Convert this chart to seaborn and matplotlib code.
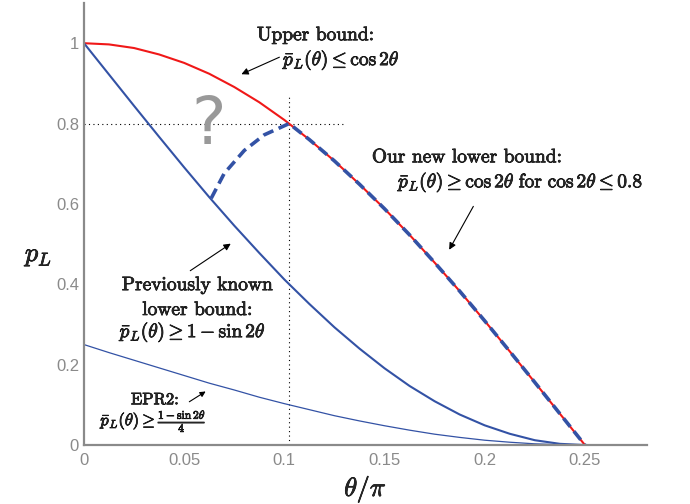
import matplotlib
matplotlib.use("Agg")
import matplotlib.pyplot as plt
import matplotlib.patheffects as pe
import seaborn as sns
import pandas as pd

# ---- data ----
x_vals = [0, 0.0125, 0.025, 0.0375, 0.05, 0.0625, 0.075, 0.0875, 0.1, 0.1125,
          0.125, 0.1375, 0.15, 0.1625, 0.175, 0.1875, 0.2, 0.2125, 0.225, 0.2375, 0.25]
upper_bound = [1.0, 0.997, 0.988, 0.972, 0.951, 0.924, 0.891, 0.853, 0.809, 0.760,
               0.707, 0.649, 0.588, 0.523, 0.454, 0.383, 0.309, 0.233, 0.156, 0.078, 0.0]
prev_lower = [1.0, 0.922, 0.844, 0.767, 0.691, 0.617, 0.546, 0.478, 0.412, 0.351,
              0.293, 0.240, 0.191, 0.147, 0.109, 0.076, 0.049, 0.028, 0.012, 0.003, 0.0]
epr2 = [0.25, 0.230, 0.211, 0.192, 0.173, 0.154, 0.137, 0.119, 0.103, 0.088,
        0.073, 0.060, 0.048, 0.037, 0.027, 0.019, 0.012, 0.007, 0.003, 0.001, 0.0]
new_x = [0.0635, 0.07, 0.08, 0.09, 0.1024, 0.1125, 0.125, 0.1375, 0.15, 0.1625,
         0.175, 0.1875, 0.2, 0.2125, 0.225, 0.2375, 0.25]
new_lower = [0.614, 0.676, 0.733, 0.772, 0.8, 0.760, 0.707, 0.649, 0.588, 0.523,
             0.454, 0.383, 0.309, 0.233, 0.156, 0.078, 0.0]
cross_x = 0.1024
cross_y = 0.8
x_ticks = [0, 0.05, 0.1, 0.15, 0.2, 0.25]
x_ticklabels = ["0", "0.05", "0.1", "0.15", "0.2", "0.25"]
y_ticks = [0, 0.2, 0.4, 0.6, 0.8, 1.0]
y_ticklabels = ["0", "0.2", "0.4", "0.6", "0.8", "1"]

sns.set_style("white")
plt.rcParams["mathtext.fontset"] = "cm"
plt.rcParams["axes.unicode_minus"] = False

fig = plt.figure(figsize=(6.9, 5.04), dpi=100)
ax = fig.add_axes([0.1217, 0.117, 0.816, 0.877])

BLUE = "#3352a5"
RED = "#f01818"

df = pd.DataFrame({"x": x_vals, "up": upper_bound, "prev": prev_lower, "epr": epr2})
dn = pd.DataFrame({"x": new_x, "y": new_lower})

# dotted guide lines
ax.plot([cross_x, cross_x], [0, 0.87], color="black", lw=0.8, linestyle=(0, (1, 3)))
ax.plot([0, 0.13], [cross_y, cross_y], color="black", lw=0.8, linestyle=(0, (1, 3)))

sns.lineplot(data=df, x="x", y="up", ax=ax, color=RED, lw=1.5, estimator=None)
sns.lineplot(data=df, x="x", y="prev", ax=ax, color=BLUE, lw=1.5, estimator=None)
sns.lineplot(data=df, x="x", y="epr", ax=ax, color=BLUE, lw=0.9, estimator=None)
sns.lineplot(data=dn, x="x", y="y", ax=ax, color=BLUE, lw=2.6, estimator=None)
ax.lines[-1].set_dashes((3, 1.6))

ax.set_xlim(0, 0.281)
ax.set_ylim(0, 1.1)
ax.set_xticks(x_ticks)
ax.set_xticklabels(x_ticklabels)
ax.set_yticks(y_ticks)
ax.set_yticklabels(y_ticklabels)
GRAY = "#8a8a8a"
ax.tick_params(direction="in", length=4, width=1.2, color=GRAY, labelcolor=GRAY,
               labelsize=12)
ax.tick_params(axis="x", pad=6)
for lab in ax.get_xticklabels() + ax.get_yticklabels():
    lab.set_fontfamily("Liberation Sans")
for s in ["top", "right"]:
    ax.spines[s].set_visible(False)
for s in ["left", "bottom"]:
    ax.spines[s].set_color(GRAY)
    ax.spines[s].set_linewidth(1.6)

STROKE = [pe.withStroke(linewidth=0.5, foreground="black")]
ax.set_xlabel(r"$\theta/\pi$", fontsize=19, labelpad=4)
ax.set_ylabel(r"$p_L$", fontsize=19, rotation=0)
ax.yaxis.set_label_coords(-0.08, 0.40)
ax.xaxis.label.set_path_effects(STROKE)
ax.yaxis.label.set_path_effects(STROKE)

# question mark
ax.text(0.062, 0.795, "?", fontsize=47, color="#999999", ha="center", va="center",
        fontfamily="DejaVu Sans")

fs = 14
TXT = dict(fontfamily="cmr10", fontsize=fs, va="center", path_effects=STROKE)
MTX = dict(fontsize=fs, va="center", path_effects=STROKE)
# upper bound annotation
ax.text(0.0863, 1.02, "Upper bound:", ha="left", **TXT)
ax.text(0.0993, 0.958, r"$\bar{p}_L(\theta) \leq \cos 2\theta$", ha="left", **MTX)
ax.annotate("", xy=(0.0773, 0.92), xytext=(0.0988, 0.968),
            arrowprops=dict(arrowstyle="-|>", color="black", lw=0.8, mutation_scale=10))

# new lower bound
ax.text(0.1437, 0.716, "Our new lower bound:", ha="left", **TXT)
ax.text(0.1567, 0.654,
        r"$\bar{p}_L(\theta) \geq \cos 2\theta\ \mathrm{for}\ \cos 2\theta \leq 0.8$",
        ha="left", **MTX)
ax.annotate("", xy=(0.1816, 0.48), xytext=(0.195, 0.6),
            arrowprops=dict(arrowstyle="-|>", color="black", lw=0.8, mutation_scale=10))

# previously known
ax.text(0.0564, 0.398, "Previously known", ha="center", **TXT)
ax.text(0.0564, 0.336, "lower bound:", ha="center", **TXT)
ax.text(0.0544, 0.281, r"$\bar{p}_L(\theta) \geq 1 - \sin 2\theta$", ha="center", **MTX)
ax.annotate("", xy=(0.0744, 0.505), xytext=(0.0519, 0.43),
            arrowprops=dict(arrowstyle="-|>", color="black", lw=0.8, mutation_scale=10))

# EPR2
ax.text(0.0354, 0.113, "EPR2:", fontfamily="cmr10", fontsize=12, ha="center",
        va="center", path_effects=STROKE)
ax.text(0.0347, 0.058, r"$\bar{p}_L(\theta) \geq \frac{1-\sin 2\theta}{4}$", fontsize=12,
        ha="center", va="center", path_effects=STROKE)
ax.annotate("", xy=(0.0619, 0.137), xytext=(0.0514, 0.104),
            arrowprops=dict(arrowstyle="-|>", color="black", lw=0.8, mutation_scale=8))

fig.savefig("out.png", dpi=100)
